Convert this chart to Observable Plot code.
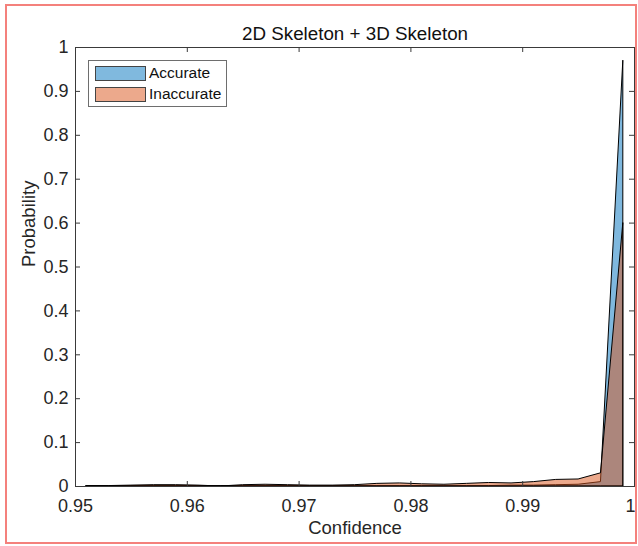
<!DOCTYPE html>
<html>
<head>
<meta charset="utf-8">
<script src="https://cdn.jsdelivr.net/npm/d3@7"></script>
<script src="https://cdn.jsdelivr.net/npm/@observablehq/plot@0.6"></script>
<style>
  html, body { margin: 0; padding: 0; background: #fff; }
  #wrap { position: relative; width: 638px; height: 546px; overflow: hidden; font-family: "Liberation Sans", Arial, sans-serif; }
  #border { position: absolute; left: 5px; top: 4px; width: 632px; height: 540px; border: 2px solid #f4817c; box-sizing: border-box; pointer-events: none; }
  #legend { position: absolute; left: 88px; top: 60px; width: 139px; height: 47px; border: 1px solid #6e6e6e; background: #fff; box-sizing: border-box; font-size: 15.5px; color: #111; }
  .item { position: absolute; left: 6px; height: 16px; display: flex; align-items: center; }
  .sw { width: 51px; height: 15px; border: 1px solid #444; box-sizing: border-box; margin-right: 3px; }
</style>
</head>
<body>
<div id="wrap">
  <div id="chart"></div>
  <div id="border"></div>
  <div id="legend"></div>
</div>
<script>
// Bin centres (confidence) and probabilities
const confidence = [0.951, 0.953, 0.955, 0.957, 0.959, 0.961, 0.963, 0.965, 0.967, 0.969,
                    0.971, 0.973, 0.975, 0.977, 0.979, 0.981, 0.983, 0.985, 0.987, 0.989,
                    0.991, 0.993, 0.995, 0.997, 0.999];
const accurate   = [0.001, 0.001, 0.001, 0.001, 0.001, 0.001, 0.001, 0.001, 0.001, 0.001,
                    0.001, 0.001, 0.001, 0.001, 0.001, 0.001, 0.001, 0.001, 0.001, 0.002,
                    0.002, 0.003, 0.004, 0.010, 0.970];
const inaccurate = [0.001, 0.001, 0.002, 0.003, 0.003, 0.002, 0.000, 0.003, 0.004, 0.003,
                    0.002, 0.002, 0.003, 0.006, 0.007, 0.005, 0.004, 0.006, 0.008, 0.007,
                    0.010, 0.015, 0.016, 0.030, 0.600];
const seriesNames = ["Accurate", "Inaccurate"];
const seriesColors = ["#0072bd", "#d95319"];
const xTicks = [0.95, 0.96, 0.97, 0.98, 0.99, 1];
const xTickLabels = ["0.95", "0.96", "0.97", "0.98", "0.99", "1"];
const yTicks = [0, 0.1, 0.2, 0.3, 0.4, 0.5, 0.6, 0.7, 0.8, 0.9, 1];
const yTickLabels = ["0", "0.1", "0.2", "0.3", "0.4", "0.5", "0.6", "0.7", "0.8", "0.9", "1"];

const accData = confidence.map((c, i) => ({c, p: accurate[i]}));
const inaData = confidence.map((c, i) => ({c, p: inaccurate[i]}));

const W = 638, H = 546, mL = 75, mR = 4, mT = 47, mB = 60;
const pw = W - mL - mR, ph = H - mT - mB, tk = 5;
const axisColor = "#3a3a3a";
const last = xTicks.length - 1;

const chart = Plot.plot({
  width: W, height: H,
  marginLeft: mL, marginRight: mR, marginTop: mT, marginBottom: mB,
  style: {fontFamily: "'Liberation Sans', Arial, sans-serif", background: "transparent", color: "#262626", overflow: "visible"},
  x: {domain: [0.95, 1]},
  y: {domain: [0, 1]},
  marks: [
    Plot.areaY(accData, {x: "c", y: "p", fill: seriesColors[0], fillOpacity: 0.5, stroke: "#000", strokeWidth: 1}),
    Plot.areaY(inaData, {x: "c", y: "p", fill: seriesColors[1], fillOpacity: 0.5, stroke: "#000", strokeWidth: 1}),
    Plot.frame({stroke: axisColor, strokeWidth: 1}),
    Plot.tickX(xTicks, {x: d => d, insetTop: ph - tk, stroke: axisColor}),
    Plot.tickX(xTicks, {x: d => d, insetBottom: ph - tk, stroke: axisColor}),
    Plot.tickY(yTicks, {y: d => d, insetRight: pw - tk, stroke: axisColor}),
    Plot.tickY(yTicks, {y: d => d, insetLeft: pw - tk, stroke: axisColor}),
    Plot.axisX(xTicks.slice(0, last), {tickSize: 0, tickPadding: 13, fontSize: 18, label: null,
      tickFormat: (d, i) => xTickLabels[i], fill: "#262626"}),
    Plot.axisX(xTicks.slice(last), {tickSize: 0, tickPadding: 13, fontSize: 18, label: null, dx: -4,
      tickFormat: () => xTickLabels[last], fill: "#262626"}),
    Plot.axisY(yTicks, {tickSize: 0, tickPadding: 7, fontSize: 18, label: null,
      tickFormat: (d, i) => yTickLabels[i], fill: "#262626"}),
    Plot.text(["Confidence"], {frameAnchor: "bottom", lineAnchor: "middle", dy: 42, fontSize: 18.5, fill: "#262626"}),
    Plot.text(["Probability"], {frameAnchor: "left", lineAnchor: "middle", dx: -46, rotate: -90, fontSize: 18.5, fill: "#262626"}),
    Plot.text(["2D Skeleton + 3D Skeleton"], {frameAnchor: "top", lineAnchor: "middle", dy: -14, fontSize: 18.8, fill: "#111"})
  ]
});
document.getElementById("chart").appendChild(chart);

// Legend
const legend = document.getElementById("legend");
seriesNames.forEach((name, i) => {
  const item = document.createElement("div");
  item.className = "item";
  item.style.top = (i === 0 ? 4 : 25) + "px";
  const sw = document.createElement("div");
  sw.className = "sw";
  sw.style.background = d3.interpolateRgb("#ffffff", seriesColors[i])(0.5);
  const t = document.createElement("span");
  t.textContent = name;
  item.appendChild(sw);
  item.appendChild(t);
  legend.appendChild(item);
});
</script>
</body>
</html>
